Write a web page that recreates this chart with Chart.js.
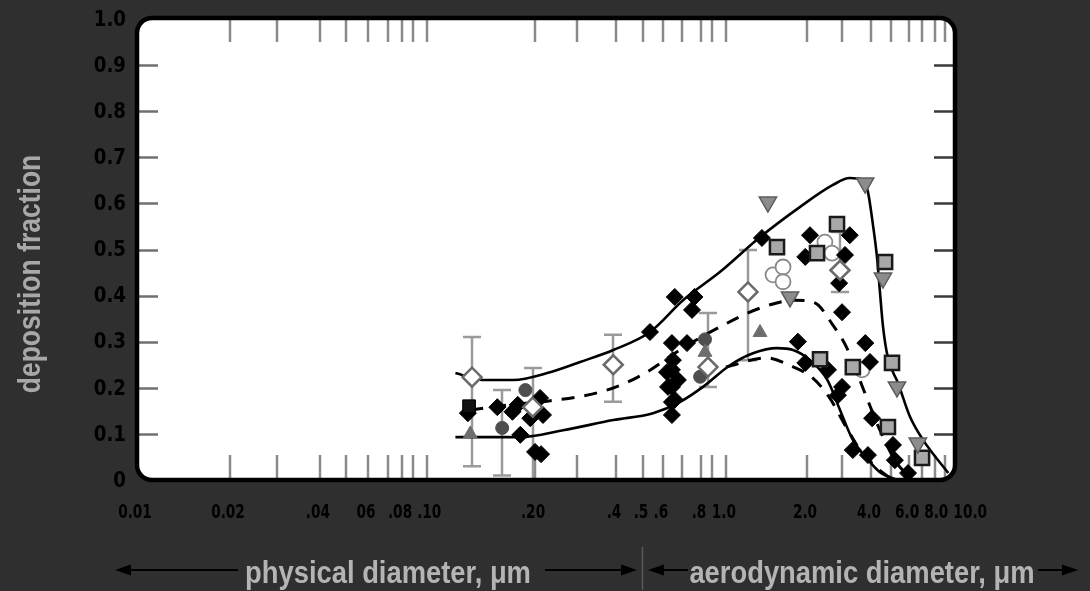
<!DOCTYPE html>
<html>
<head>
<meta charset="utf-8">
<script src="https://cdn.jsdelivr.net/npm/chart.js@4.4.1/dist/chart.umd.min.js"></script>
<style>
  html, body { margin: 0; padding: 0; background: #2f2f2f; }
  canvas { display: block; }
</style>
</head>
<body>
<canvas id="c" width="1090" height="591"></canvas>
<script>
// ---- Diameter axis: each tick value and its fraction along the axis ----
const AXIS_STOPS = [
  [0.01, 0], [0.02, 0.1137], [0.03, 0.1711], [0.04, 0.2237], [0.05, 0.2555],
  [0.06, 0.2824], [0.07, 0.3068], [0.08, 0.3240], [0.09, 0.3374], [0.1, 0.3545],
  [0.2, 0.4866], [0.3, 0.5379], [0.4, 0.5856], [0.5, 0.6186], [0.6, 0.6430],
  [0.7, 0.6663], [0.8, 0.6895], [0.9, 0.7029], [1, 0.7200], [2, 0.8191],
  [3, 0.8619], [4, 0.8973], [5, 0.9218], [6, 0.9438], [7, 0.9597],
  [8, 0.9756], [9, 0.9878], [10, 1]
];
const X_TICKS = [0.02, 0.03, 0.04, 0.05, 0.06, 0.07, 0.08, 0.09, 0.1,
  0.2, 0.3, 0.4, 0.5, 0.6, 0.7, 0.8, 0.9, 1, 2, 3, 4, 5, 6, 7, 8, 9];
const X_LABEL_VALUES = [0.01, 0.02, 0.04, 0.06, 0.08, 0.1, 0.2, 0.4, 0.5, 0.6, 0.8, 1, 2, 4, 6, 8, 10];
const X_LABEL_TEXT = ['0.01', '0.02', '.04', '06', '.08', '.10', '.20', '.4', '.5', '.6', '.8', '1.0', '2.0', '4.0', '6.0', '8.0', '10.0'];
const Y_TICKS = [0, 0.1, 0.2, 0.3, 0.4, 0.5, 0.6, 0.7, 0.8, 0.9, 1.0];
const Y_LABEL_TEXT = ['0', '0.1', '0.2', '0.3', '0.4', '0.5', '0.6', '0.7', '0.8', '0.9', '1.0'];
const PHYSICAL_LIMIT = 0.5;   // physical / aerodynamic boundary

// ---- Model curves (diameter, deposition fraction) ----
const upperFitD = [0.12, 0.143, 0.174, 0.225, 0.307, 0.392, 0.533, 0.705, 0.955, 1.34, 1.88, 2.70, 3.24, 3.69, 3.88, 4.09, 4.28, 4.42, 4.57, 4.83, 5.37, 6.07, 7.07, 9.32];
const upperFitF = [0.232, 0.217, 0.217, 0.232, 0.256, 0.282, 0.321, 0.390, 0.451, 0.527, 0.592, 0.640, 0.655, 0.651, 0.625, 0.553, 0.482, 0.408, 0.334, 0.265, 0.210, 0.137, 0.087, 0.015];

const meanFitD = [0.132, 0.170, 0.225, 0.348, 0.424, 0.518, 0.687, 0.955, 1.34, 1.805, 2.19, 2.70, 3.15, 3.81, 4.42, 5.20, 6.07];
const meanFitF = [0.152, 0.163, 0.171, 0.189, 0.208, 0.234, 0.282, 0.332, 0.373, 0.390, 0.384, 0.336, 0.286, 0.182, 0.108, 0.043, 0.004];

const lowerFitD = [0.12, 0.182, 0.262, 0.392, 0.548, 0.687, 0.817, 1.035, 1.26, 1.547, 1.774, 2.07, 2.53, 2.93, 3.34, 3.96, 4.42, 5.31];
const lowerFitF = [0.093, 0.093, 0.108, 0.130, 0.145, 0.169, 0.202, 0.249, 0.275, 0.286, 0.282, 0.260, 0.217, 0.152, 0.087, 0.039, 0.017, 0.0];

const lowerAltD = [1.0, 1.41, 1.75, 2.14, 2.60, 3.09, 3.55, 4.18, 4.95];
const lowerAltF = [0.245, 0.265, 0.247, 0.221, 0.178, 0.119, 0.069, 0.030, 0.004];

// ---- Measurements ----
const blackDiamondD = [0.13, 0.157, 0.173, 0.179, 0.21, 0.216, 0.194, 0.182, 0.2, 0.212,
  0.533, 0.645, 0.645, 0.645, 0.645, 0.645, 0.66, 0.764, 0.751, 0.725, 0.65, 0.62, 0.677, 0.625, 0.66,
  1.36, 2.07, 1.97, 3.24, 3.09, 2.90, 3.0, 1.85, 1.97, 2.55, 3.78, 3.96, 2.86, 3.0, 3.34, 3.88, 4.05, 5.1, 5.2, 5.94];
const blackDiamondF = [0.145, 0.158, 0.148, 0.163, 0.178, 0.141, 0.134, 0.098, 0.061, 0.056,
  0.321, 0.297, 0.239, 0.202, 0.169, 0.141, 0.397, 0.397, 0.369, 0.297, 0.26, 0.234, 0.217, 0.202, 0.174,
  0.525, 0.531, 0.484, 0.531, 0.488, 0.427, 0.364, 0.3, 0.254, 0.239, 0.297, 0.256, 0.184, 0.202, 0.065, 0.054, 0.134, 0.076, 0.043, 0.015];

const blackSquareD = [0.131];
const blackSquareF = [0.16];

const openDiamondD = [0.1335, 0.197, 0.392, 0.862, 1.207, 2.93];
const openDiamondF = [0.223, 0.158, 0.25, 0.245, 0.408, 0.455];
const openDiamondLow = [0.03, 0.0, 0.17, 0.202, 0.26, 0.408];
const openDiamondHigh = [0.31, 0.243, 0.315, 0.362, 0.499, 0.538];

const grayCircleD = [0.162, 0.188, 0.835, 0.795];
const grayCircleF = [0.113, 0.195, 0.305, 0.224];
const grayCircleLow = [0.01, null, null, null];
const grayCircleHigh = [0.195, null, null, null];

const grayTriangleD = [0.132, 0.835, 1.338];
const grayTriangleF = [0.10, 0.277, 0.32];

const invTriangleD = [1.432, 3.775, 1.729, 4.57, 5.31, 6.66];
const invTriangleF = [0.603, 0.644, 0.397, 0.438, 0.202, 0.08];

const graySquareD = [1.547, 2.245, 2.83, 4.68, 2.325, 3.34, 5.05, 4.83, 7.0];
const graySquareF = [0.505, 0.492, 0.555, 0.473, 0.262, 0.245, 0.254, 0.115, 0.048];

const openCircleD = [1.495, 1.629, 1.629, 2.46, 2.67, 3.66];
const openCircleF = [0.445, 0.462, 0.43, 0.516, 0.492, 0.239];

// ---- helpers ----
const pts = (d, f) => d.map((v, i) => ({ x: v, y: f[i] }));
const L = v => Math.log10(v);

function axisFraction(v) {
  const lv = L(v);
  const s = AXIS_STOPS;
  let i = 0;
  while (i < s.length - 2 && lv > L(s[i + 1][0])) i++;
  const l0 = L(s[i][0]), l1 = L(s[i + 1][0]);
  return s[i][1] + (lv - l0) / (l1 - l0) * (s[i + 1][1] - s[i][1]);
}
function axisValue(f) {
  const s = AXIS_STOPS;
  let i = 0;
  while (i < s.length - 2 && f > s[i + 1][1]) i++;
  const l0 = L(s[i][0]), l1 = L(s[i + 1][0]);
  return Math.pow(10, l0 + (f - s[i][1]) / (s[i + 1][1] - s[i][1]) * (l1 - l0));
}

class DiameterScale extends Chart.LinearScale {
  determineDataLimits() {
    this.min = AXIS_STOPS[0][0];
    this.max = AXIS_STOPS[AXIS_STOPS.length - 1][0];
  }
  buildTicks() { return X_TICKS.map(v => ({ value: v })); }
  getPixelForValue(v) { return this.left + axisFraction(v) * this.width; }
  getValueForPixel(p) { return axisValue((p - this.left) / this.width); }
}
DiameterScale.id = 'diameter';
DiameterScale.defaults = {};
Chart.register(DiameterScale);

const BG = '#2f2f2f';
const FONT = '"Liberation Sans", Arial, sans-serif';
const TICK_FONT = '"DejaVu Sans Condensed", "DejaVu Sans", sans-serif';

function roundRectPath(ctx, x, y, w, h, r) {
  ctx.beginPath();
  ctx.moveTo(x + r, y);
  ctx.lineTo(x + w - r, y);
  ctx.arcTo(x + w, y, x + w, y + r, r);
  ctx.lineTo(x + w, y + h - r);
  ctx.arcTo(x + w, y + h, x + w - r, y + h, r);
  ctx.lineTo(x + r, y + h);
  ctx.arcTo(x, y + h, x, y + h - r, r);
  ctx.lineTo(x, y + r);
  ctx.arcTo(x, y, x + r, y, r);
  ctx.closePath();
}

function squeezedText(ctx, text, x, y, sx, align) {
  ctx.save();
  ctx.translate(x, y);
  ctx.scale(sx, 1);
  ctx.textAlign = align;
  ctx.fillText(text, 0, 0);
  ctx.restore();
}

function arrow(ctx, xFrom, xTo, y) {
  // shaft from xFrom to the tip at xTo
  const dir = Math.sign(xTo - xFrom);
  ctx.beginPath();
  ctx.moveTo(xFrom, y);
  ctx.lineTo(xTo - dir * 12, y);
  ctx.stroke();
  ctx.beginPath();
  ctx.moveTo(xTo, y);
  ctx.lineTo(xTo - dir * 16, y - 5.5);
  ctx.lineTo(xTo - dir * 16, y + 5.5);
  ctx.closePath();
  ctx.fill();
}

const framePlugin = {
  id: 'frame',
  beforeDraw(chart) {
    const { ctx, chartArea: a } = chart;
    ctx.save();
    ctx.fillStyle = BG;
    ctx.fillRect(0, 0, chart.width, chart.height);
    roundRectPath(ctx, a.left, a.top - 1, a.right - a.left, a.bottom - a.top + 1, 15);
    ctx.fillStyle = '#ffffff';
    ctx.fill();
    ctx.restore();
  },
  beforeDatasetsDraw(chart) {
    const { ctx, chartArea: a, scales } = chart;
    const x = scales.x, y = scales.y;
    ctx.save();
    roundRectPath(ctx, a.left, a.top - 1, a.right - a.left, a.bottom - a.top + 1, 15);
    ctx.clip();
    // tick marks on all four sides
    ctx.lineWidth = 2.5;
    ctx.strokeStyle = '#8a8a8a';
    ctx.beginPath();
    X_TICKS.forEach(v => {
      const px = Math.round(x.getPixelForValue(v));
      ctx.moveTo(px, a.top); ctx.lineTo(px, a.top + 23);
      ctx.moveTo(px, a.bottom - 25); ctx.lineTo(px, a.bottom);
    });
    ctx.stroke();
    ctx.strokeStyle = '#707070';
    ctx.beginPath();
    Y_TICKS.slice(1, -1).forEach(v => {
      const py = Math.round(y.getPixelForValue(v)) + 0.5;
      ctx.moveTo(a.left, py); ctx.lineTo(a.left + 21, py);
    });
    ctx.stroke();
    ctx.strokeStyle = '#3a3a3a';
    ctx.beginPath();
    Y_TICKS.slice(1, -1).forEach(v => {
      const py = Math.round(y.getPixelForValue(v)) + 0.5;
      ctx.moveTo(a.right - 21, py); ctx.lineTo(a.right, py);
    });
    ctx.stroke();
    // error bars
    const bars = [];
    openDiamondD.forEach((d, i) => bars.push([d, openDiamondLow[i], openDiamondHigh[i]]));
    grayCircleD.forEach((d, i) => { if (grayCircleLow[i] !== null) bars.push([d, grayCircleLow[i], grayCircleHigh[i]]); });
    ctx.strokeStyle = '#9a9a9a';
    ctx.lineWidth = 2.5;
    ctx.beginPath();
    bars.forEach(([d, lo, hi]) => {
      const px = Math.round(x.getPixelForValue(d));
      const p0 = y.getPixelForValue(lo), p1 = y.getPixelForValue(hi);
      ctx.moveTo(px, p0); ctx.lineTo(px, p1);
      ctx.moveTo(px - 9, p0); ctx.lineTo(px + 9, p0);
      ctx.moveTo(px - 9, p1); ctx.lineTo(px + 9, p1);
    });
    ctx.stroke();
    ctx.restore();
  },
  afterDatasetsDraw(chart) {
    const { ctx, chartArea: a, scales } = chart;
    const x = scales.x, y = scales.y;
    ctx.save();
    // frame outline
    roundRectPath(ctx, a.left, a.top - 1, a.right - a.left, a.bottom - a.top + 1, 15);
    ctx.lineWidth = 4.5;
    ctx.strokeStyle = '#000';
    ctx.stroke();

    // y tick labels
    ctx.fillStyle = '#000';
    ctx.font = 'bold 22px ' + TICK_FONT;
    ctx.textBaseline = 'middle';
    Y_TICKS.forEach((v, i) => {
      squeezedText(ctx, Y_LABEL_TEXT[i], a.left - 11, y.getPixelForValue(v) + 1, 0.92, 'right');
    });

    // x tick labels, nudged apart where they crowd
    ctx.font = 'bold 20px ' + TICK_FONT;
    const sx = 0.76;
    let prevRight = -Infinity;
    X_LABEL_VALUES.forEach((v, i) => {
      const w = ctx.measureText(X_LABEL_TEXT[i]).width * sx;
      let cx = x.getPixelForValue(v) - 2;
      cx = Math.max(cx, prevRight + 5 + w / 2);
      prevRight = cx + w / 2;
      squeezedText(ctx, X_LABEL_TEXT[i], cx, a.bottom + 33, sx, 'center');
    });

    // y axis title
    ctx.fillStyle = '#a8a8a8';
    ctx.font = 'bold 31px ' + FONT;
    ctx.save();
    ctx.translate(31, 274);
    ctx.rotate(-Math.PI / 2);
    ctx.scale(0.855, 1);
    ctx.textAlign = 'center';
    ctx.textBaseline = 'middle';
    ctx.fillText('deposition fraction', 0, 0);
    ctx.restore();

    // diameter captions with arrows
    const yRow = 570;
    const xSplit = Math.round(x.getPixelForValue(PHYSICAL_LIMIT));
    ctx.fillStyle = '#b4b4b4';
    ctx.font = 'bold 32px ' + FONT;
    ctx.textBaseline = 'alphabetic';
    squeezedText(ctx, 'physical diameter, μm', 388, 583, 0.855, 'center');
    squeezedText(ctx, 'aerodynamic diameter, μm', 862, 583, 0.855, 'center');

    ctx.strokeStyle = '#000';
    ctx.fillStyle = '#000';
    ctx.lineWidth = 2;
    arrow(ctx, 238, 115, yRow);
    arrow(ctx, 545, xSplit - 6, yRow);
    arrow(ctx, 688, xSplit + 5, yRow);
    arrow(ctx, 1038, 1078, yRow);

    ctx.strokeStyle = '#5a5a5a';
    ctx.lineWidth = 1.5;
    ctx.beginPath();
    ctx.moveTo(xSplit - 0.5, 547);
    ctx.lineTo(xSplit - 0.5, 590);
    ctx.stroke();
    ctx.restore();
  }
};

const lineDefaults = {
  showLine: true, pointRadius: 0, pointHoverRadius: 0,
  borderColor: '#000', backgroundColor: '#000',
  cubicInterpolationMode: 'monotone', fill: false
};

const datasets = [
  Object.assign({ label: 'upper', data: pts(upperFitD, upperFitF), borderWidth: 2.6, order: 20 }, lineDefaults),
  Object.assign({ label: 'lower', data: pts(lowerFitD, lowerFitF), borderWidth: 2.6, order: 20 }, lineDefaults),
  Object.assign({ label: 'mean', data: pts(meanFitD, meanFitF), borderWidth: 3, borderDash: [13, 10], order: 20 }, lineDefaults),
  Object.assign({ label: 'lowerAlt', data: pts(lowerAltD, lowerAltF), borderWidth: 3, borderDash: [13, 10], order: 20 }, lineDefaults),
  {
    label: 'open circles', data: pts(openCircleD, openCircleF), order: 8,
    pointStyle: 'circle', pointRadius: 7.5, pointBackgroundColor: '#fff',
    pointBorderColor: '#8a8a8a', pointBorderWidth: 1.8
  },
  {
    label: 'black diamonds', data: pts(blackDiamondD, blackDiamondF), order: 7,
    pointStyle: 'rectRot', pointRadius: 8.5, pointBackgroundColor: '#000',
    pointBorderColor: '#000', pointBorderWidth: 1
  },
  {
    label: 'black squares', data: pts(blackSquareD, blackSquareF), order: 6,
    pointStyle: 'rect', pointRadius: 9, pointBackgroundColor: '#111',
    pointBorderColor: '#000', pointBorderWidth: 1
  },
  {
    label: 'gray circles', data: pts(grayCircleD, grayCircleF), order: 5,
    pointStyle: 'circle', pointRadius: 6.5, pointBackgroundColor: '#4e4e4e',
    pointBorderColor: '#4e4e4e', pointBorderWidth: 1
  },
  {
    label: 'gray triangles', data: pts(grayTriangleD, grayTriangleF), order: 4,
    pointStyle: 'triangle', pointRadius: 8, pointBackgroundColor: '#6e6e6e',
    pointBorderColor: '#6e6e6e', pointBorderWidth: 1
  },
  {
    label: 'open diamonds', data: pts(openDiamondD, openDiamondF), order: 3,
    pointStyle: 'rectRot', pointRadius: 9.5, pointBackgroundColor: '#fff',
    pointBorderColor: '#6a6a6a', pointBorderWidth: 2.5
  },
  {
    label: 'gray squares', data: pts(graySquareD, graySquareF), order: 2,
    pointStyle: 'rect', pointRadius: 10, pointBackgroundColor: '#a8a8a8',
    pointBorderColor: '#1a1a1a', pointBorderWidth: 2.5
  },
  {
    label: 'inverted triangles', data: pts(invTriangleD, invTriangleF), order: 1,
    pointStyle: 'triangle', rotation: 180, pointRotation: 180, pointRadius: 10,
    pointBackgroundColor: '#8c8c8c', pointBorderColor: '#5c5c5c', pointBorderWidth: 1.5
  }
];

new Chart(document.getElementById('c'), {
  type: 'scatter',
  data: { datasets },
  options: {
    responsive: false,
    animation: false,
    devicePixelRatio: 1,
    events: [],
    layout: { padding: { left: 137, right: 135, top: 19, bottom: 111 } },
    plugins: { legend: { display: false }, tooltip: { enabled: false } },
    scales: {
      x: { type: 'diameter', display: false, min: 0.01, max: 10, ticks: { callback: v => String(v) } },
      y: { type: 'linear', display: false, min: 0, max: 1 }
    }
  },
  plugins: [framePlugin]
});
</script>
</body>
</html>
